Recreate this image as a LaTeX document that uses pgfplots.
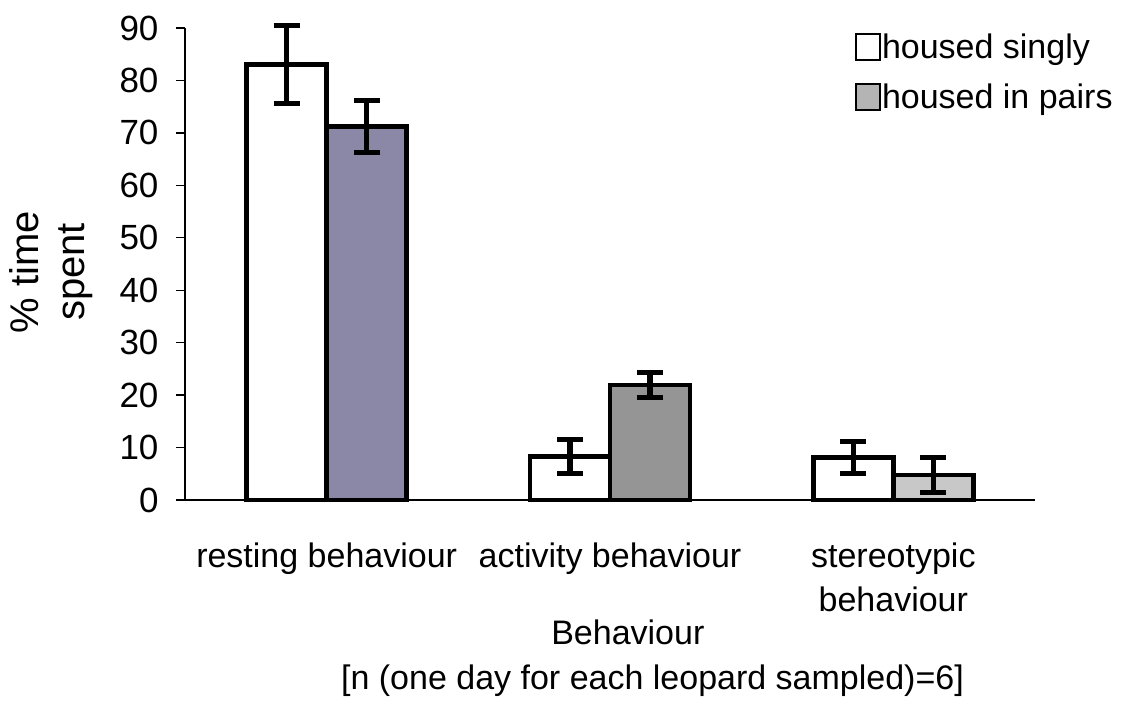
\documentclass[border=0pt]{standalone}
\usepackage{pgfplots}
\pgfplotsset{compat=1.18}
\usepackage{fontspec}
\setmainfont{Liberation Sans}
\definecolor{pairA}{HTML}{8A88A6}
\definecolor{pairB}{HTML}{959595}
\definecolor{pairC}{HTML}{C8C8C8}
\definecolor{legpair}{HTML}{B4B4B4}
\begin{document}
\begin{tikzpicture}
\path[use as bounding box] (0pt,0pt) rectangle (1127pt,725pt);
\begin{axis}[
  at={(185pt,225pt)}, anchor=south west,
  scale only axis, width=850pt, height=472pt,
  xmin=-0.5, xmax=2.5, ymin=0, ymax=90,
  axis x line*=bottom, axis y line*=left,
  axis line style={line width=1.3pt},
  ytick={0,10,...,90},
  yticklabel style={font=\fontsize{35}{38}\selectfont, xshift=-14pt},
  /pgf/number format/assume math mode=true,
  major tick length=9pt, tick align=outside,
  tick style={line width=1.3pt, black},
  xtick={0,1,2},
  xticklabels={resting behaviour, activity behaviour, stereotypic\\behaviour},
  x tick style={draw=none},
  xticklabel style={font=\fontsize{34}{44}\selectfont, align=center, anchor=north, yshift=-30pt},
  extra x ticks={-0.5,0.5,1.5,2.5},
  extra x tick labels={},
  extra x tick style={tick style={line width=1.3pt, black, draw=black}, major tick length=10pt},
  xlabel={Behaviour},
  xlabel style={font=\fontsize{34}{38}\selectfont, at={(axis description cs:0.521,-0.28)}, anchor=center},
  ylabel={\% time\\spent},
  ylabel style={font=\fontsize{40}{46}\selectfont, align=center, at={(axis description cs:-0.158,0.483)}, anchor=center},
  ybar, bar width=80pt,
  legend style={at={(axis description cs:0.788,0.99)}, anchor=north west, draw=none, fill=none,
    font=\fontsize{34}{38}\selectfont, row sep=22pt, inner sep=0pt,
    nodes={inner sep=1pt}},
  legend cell align=left,
  legend image code/.code={\draw[#1, line width=2pt] (0pt,-13pt) rectangle (24pt,13pt);},
  error bars/error bar style={line width=5.5pt, black},
  error bars/error mark options={line width=5pt, black, mark size=13pt, rotate=90},
  clip=false,
]
\addlegendimage{fill=white, draw=black}
\addlegendentry{housed singly}
\addlegendimage{fill=legpair, draw=black}
\addlegendentry{housed in pairs}
% housed singly
\addplot[forget plot, fill=white, draw=black, line width=4.5pt, bar shift=-40pt,
  error bars/.cd, y dir=both, y explicit]
  coordinates {(0,83.0) +- (0,7.4) (1,8.3) +- (0,3.3) (2,8.1) +- (0,3.1)};
% housed in pairs (three shades as in the scan)
\addplot[forget plot, fill=pairA, draw=black, line width=4.5pt, bar shift=40pt,
  error bars/.cd, y dir=both, y explicit]
  coordinates {(0,71.2) +- (0,5.0)};
\addplot[forget plot, fill=pairB, draw=black, line width=4.5pt, bar shift=40pt,
  error bars/.cd, y dir=both, y explicit]
  coordinates {(1,21.9) +- (0,2.4)};
\addplot[forget plot, fill=pairC, draw=black, line width=4.5pt, bar shift=40pt,
  error bars/.cd, y dir=both, y explicit]
  coordinates {(2,4.8) +- (0,3.3)};
\node[font=\fontsize{34}{38}\selectfont, anchor=center] at (axis description cs:0.55,-0.383) {[n (one day for each leopard sampled)=6]};
\end{axis}
\end{tikzpicture}
\end{document}
